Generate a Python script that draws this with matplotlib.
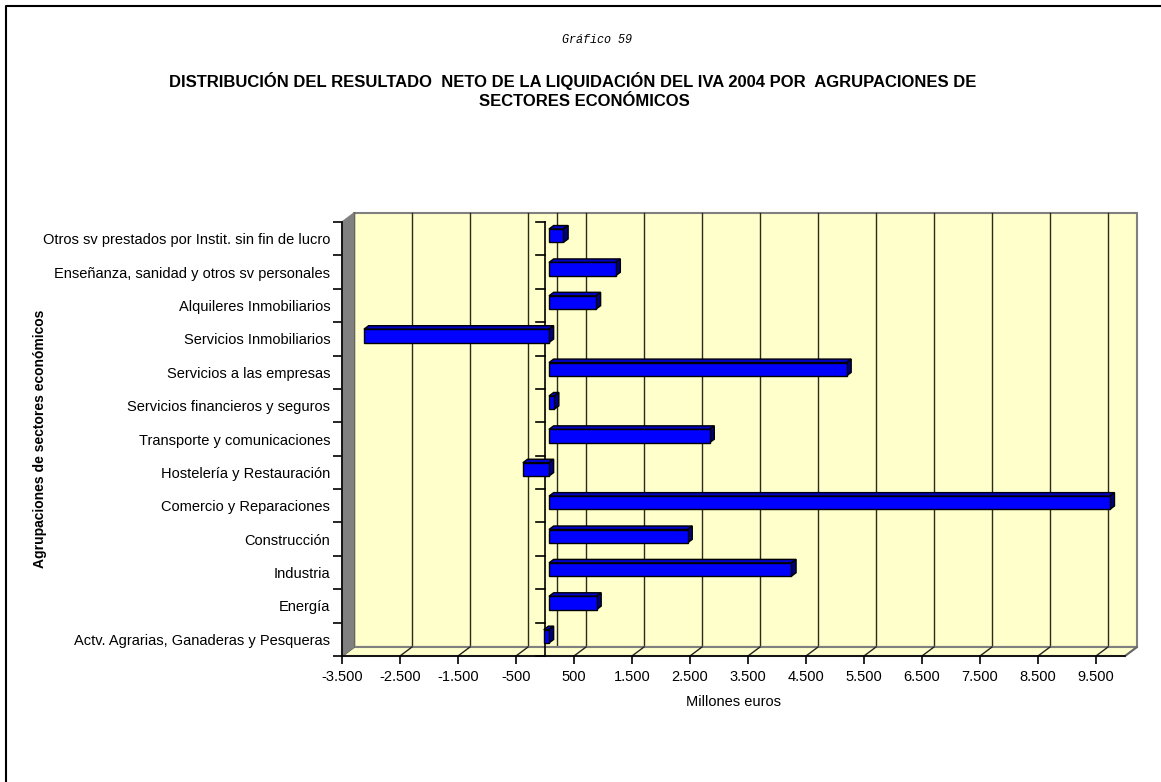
import matplotlib
matplotlib.use("Agg")
import matplotlib.pyplot as plt
from matplotlib.patches import Polygon, Rectangle
from matplotlib.ticker import FixedLocator, FuncFormatter

plt.rcParams['font.family'] = ['Liberation Sans', 'DejaVu Sans']

# ---------------- data ----------------
categories = [
    "Actv. Agrarias, Ganaderas y Pesqueras",
    "Energía",
    "Industria",
    "Construcción",
    "Comercio y Reparaciones",
    "Hostelería y Restauración",
    "Transporte y comunicaciones",
    "Servicios financieros y seguros",
    "Servicios a las empresas",
    "Servicios Inmobiliarios",
    "Alquileres Inmobiliarios",
    "Enseñanza, sanidad y otros sv personales",
    "Otros sv prestados por Instit. sin fin de lucro",
]
values = [-90, 820, 4180, 2390, 9670, -450, 2770, 90, 5130, -3190, 810, 1150, 250]
x_ticks = [-3500, -2500, -1500, -500, 500, 1500, 2500, 3500, 4500, 5500, 6500, 7500, 8500, 9500]
x_min, x_max = -3500, 10000

title_small = "Gráfico 59"
title_line1 = "DISTRIBUCIÓN DEL RESULTADO  NETO DE LA LIQUIDACIÓN DEL IVA 2004 POR  AGRUPACIONES DE"
title_line2 = "SECTORES ECONÓMICOS"
x_label = "Millones euros"
y_label = "Agrupaciones de sectores económicos"

# ---------------- figure ----------------
W, H = 1161, 782
fig = plt.figure(figsize=(W / 100, H / 100), dpi=100)
fig.patch.set_facecolor("white")

ax_l, ax_r, ax_t, ax_b = 342, 1125, 222, 656
ax = fig.add_axes([ax_l / W, 1 - ax_b / H, (ax_r - ax_l) / W, (ax_b - ax_t) / H])
ax.set_facecolor("none")
n = len(categories)
y_lo, y_hi = -0.5, n - 0.5
ax.set_xlim(x_min, x_max)
ax.set_ylim(y_lo, y_hi)

# depth offsets (pixels -> data units)
px_x = (x_max - x_min) / (ax_r - ax_l)
px_y = (y_hi - y_lo) / (ax_b - ax_t)
DX, DY = 12 * px_x, 9 * px_y

wall_c = "#FFFFCC"
grey = "#808080"

# back wall
ax.add_patch(Rectangle((x_min + DX, y_lo + DY), x_max - x_min, y_hi - y_lo,
                       facecolor=wall_c, edgecolor=grey, lw=1.5, clip_on=False, zorder=0))
# gridlines on back wall + floor
for v in x_ticks + [0]:
    ax.plot([v + DX, v + DX], [y_lo + DY, y_hi + DY], color="#2b2b1a", lw=1.0,
            clip_on=False, zorder=1)
# floor
ax.add_patch(Polygon([(x_min, y_lo), (x_max, y_lo), (x_max + DX, y_lo + DY), (x_min + DX, y_lo + DY)],
                     closed=True, facecolor=wall_c, edgecolor=grey, lw=1.5, clip_on=False, zorder=1))
for v in x_ticks:
    ax.plot([v, v + DX], [y_lo, y_lo + DY], color="#222222", lw=1.0, clip_on=False, zorder=2)
# left wall
ax.add_patch(Polygon([(x_min, y_lo), (x_min, y_hi), (x_min + DX, y_hi + DY), (x_min + DX, y_lo + DY)],
                     closed=True, facecolor=grey, edgecolor=grey, lw=1.0, clip_on=False, zorder=2))

# zero axis line with category-boundary ticks
ax.plot([0, 0], [y_lo, y_hi], color="black", lw=1.2, zorder=3, clip_on=False)
for k in range(n + 1):
    yb = y_lo + k
    ax.plot([-9 * px_x, 0], [yb, yb], color="black", lw=1.2, zorder=3, clip_on=False)

# bars (3D look)
f0, f1 = 0.33, 0.72
hh = 0.2
front_c, top_c, side_c = "#0000FF", "#0000C8", "#000080"
for i, v in enumerate(values):
    x0, x1 = min(0, v), max(0, v)
    a0, b0 = f0 * DX, f0 * DY
    a1, b1 = f1 * DX, f1 * DY
    yb, yt = i - hh, i + hh
    ax.add_patch(Polygon([(x0 + a0, yt + b0), (x1 + a0, yt + b0), (x1 + a1, yt + b1), (x0 + a1, yt + b1)],
                         closed=True, facecolor=top_c, edgecolor="black", lw=1.0, zorder=5))
    ax.add_patch(Polygon([(x1 + a0, yb + b0), (x1 + a1, yb + b1), (x1 + a1, yt + b1), (x1 + a0, yt + b0)],
                         closed=True, facecolor=side_c, edgecolor="black", lw=1.0, zorder=5))
    ax.add_patch(Rectangle((x0 + a0, yb + b0), x1 - x0, yt - yb,
                           facecolor=front_c, edgecolor="black", lw=1.0, zorder=6))

# bottom axis right diagonal end
ax.plot([x_max, x_max + DX], [y_lo, y_lo + DY], color="#666666", lw=1.2, clip_on=False, zorder=3)

# spines / ticks
for s in ["top", "right"]:
    ax.spines[s].set_visible(False)
for s in ["left", "bottom"]:
    ax.spines[s].set_color("black")
    ax.spines[s].set_linewidth(1.2)
    ax.spines[s].set_zorder(4)

ax.set_xticks(x_ticks)
ax.xaxis.set_major_formatter(FuncFormatter(lambda v, p: f"{int(v):,}".replace(",", ".")))
ax.tick_params(axis="x", which="major", length=5.5, width=1.2, direction="out",
               labelsize=10.5, pad=4.5, colors="black")
ax.set_yticks(range(n))
ax.set_yticklabels(categories)
ax.tick_params(axis="y", which="major", length=0, pad=8.5, labelsize=10.5)
ax.yaxis.set_minor_locator(FixedLocator([y_lo + k for k in range(n + 1)]))
ax.tick_params(axis="y", which="minor", length=6.5, width=1.2, direction="out")
ax.set_xlabel(x_label, fontsize=10.5, labelpad=8)

# titles
fig.text(597 / W, 1 - 40 / H, title_small, ha="center", va="center", fontsize=8.5,
         family="Liberation Mono", style="italic")
fig.text(573 / W, 1 - 81 / H, title_line1, ha="center", va="center", fontsize=12, fontweight="bold")
fig.text(584 / W, 1 - 101 / H, title_line2, ha="center", va="center", fontsize=12, fontweight="bold")
fig.text(40 / W, 1 - 439 / H, y_label, ha="center", va="center", rotation=90,
         fontsize=10, fontweight="bold")

# figure border (top and left)
fig.add_artist(plt.Line2D([6 / W, 6 / W, 1.0], [0.0, 1 - 6 / H, 1 - 6 / H],
                          transform=fig.transFigure, color="black", lw=1.5))

fig.savefig("out.png", dpi=100)
